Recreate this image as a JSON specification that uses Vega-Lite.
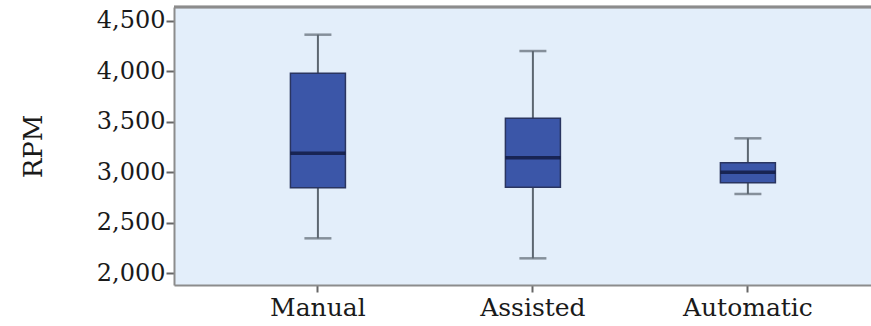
{
  "$schema": "https://vega.github.io/schema/vega-lite/v6.json",
  "width": 697,
  "height": 278,
  "autosize": {"type": "none"},
  "padding": {"left": 174, "top": 7, "right": 0, "bottom": 41},
  "background": "white",
  "config": {
    "view": {"fill": "#e3eefa", "stroke": null},
    "font": "DejaVu Serif"
  },
  "data": {
    "values": [
      {"mode": "Manual", "lower": 2346, "q1": 2847, "median": 3187, "q3": 3979, "upper": 4362},
      {"mode": "Assisted", "lower": 2148, "q1": 2851, "median": 3144, "q3": 3534, "upper": 4200},
      {"mode": "Automatic", "lower": 2785, "q1": 2897, "median": 3000, "q3": 3095, "upper": 3336}
    ]
  },
  "encoding": {
    "x": {
      "field": "mode",
      "type": "nominal",
      "sort": ["Manual", "Assisted", "Automatic"],
      "scale": {"paddingInner": 0, "paddingOuter": 0.121, "align": 0.7},
      "axis": {
        "title": null,
        "labelAngle": 0,
        "labelFont": "DejaVu Serif",
        "labelFontSize": 25,
        "labelColor": "#1a1a1a",
        "labelPadding": 3,
        "tickSize": 7,
        "tickWidth": 2,
        "tickColor": "#666666",
        "domainColor": "#8c8c8c",
        "domainWidth": 2
      }
    }
  },
  "layer": [
    {
      "mark": {"type": "rule", "color": "#8c8c8c", "strokeWidth": 2.5},
      "encoding": {"y": {"datum": 4636, "type": "quantitative"}, "x": null}
    },
    {
      "mark": {"type": "rule", "color": "#5c6670", "strokeWidth": 2},
      "encoding": {
        "y": {
          "field": "lower",
          "type": "quantitative",
          "scale": {"domain": [1884, 4636], "nice": false, "zero": false},
          "axis": {
            "title": "RPM",
            "titleFont": "DejaVu Serif",
            "titleFontSize": 26,
            "titleFontWeight": "normal",
            "titleColor": "#1a1a1a",
            "titlePadding": 50,
            "values": [2000, 2500, 3000, 3500, 4000, 4500],
            "format": ",.0f",
            "labelFont": "DejaVu Serif",
            "labelFontSize": 24,
            "labelColor": "#1a1a1a",
            "labelPadding": 1,
            "tickSize": 8,
            "tickWidth": 2,
            "tickColor": "#666666",
            "domainColor": "#8c8c8c",
            "domainWidth": 2,
            "grid": false
          }
        },
        "y2": {"field": "upper"}
      }
    },
    {
      "mark": {"type": "tick", "color": "#5c6670", "size": 27, "thickness": 2.5},
      "encoding": {"y": {"field": "lower", "type": "quantitative"}}
    },
    {
      "mark": {"type": "tick", "color": "#5c6670", "size": 27, "thickness": 2.5},
      "encoding": {"y": {"field": "upper", "type": "quantitative"}}
    },
    {
      "mark": {"type": "bar", "size": 55, "fill": "#3b56a8", "stroke": "#2a3560", "strokeWidth": 1.5},
      "encoding": {
        "y": {"field": "q1", "type": "quantitative"},
        "y2": {"field": "q3"}
      }
    },
    {
      "mark": {"type": "tick", "color": "#0a1030", "size": 55, "thickness": 3.5},
      "encoding": {"y": {"field": "median", "type": "quantitative"}}
    }
  ]
}
